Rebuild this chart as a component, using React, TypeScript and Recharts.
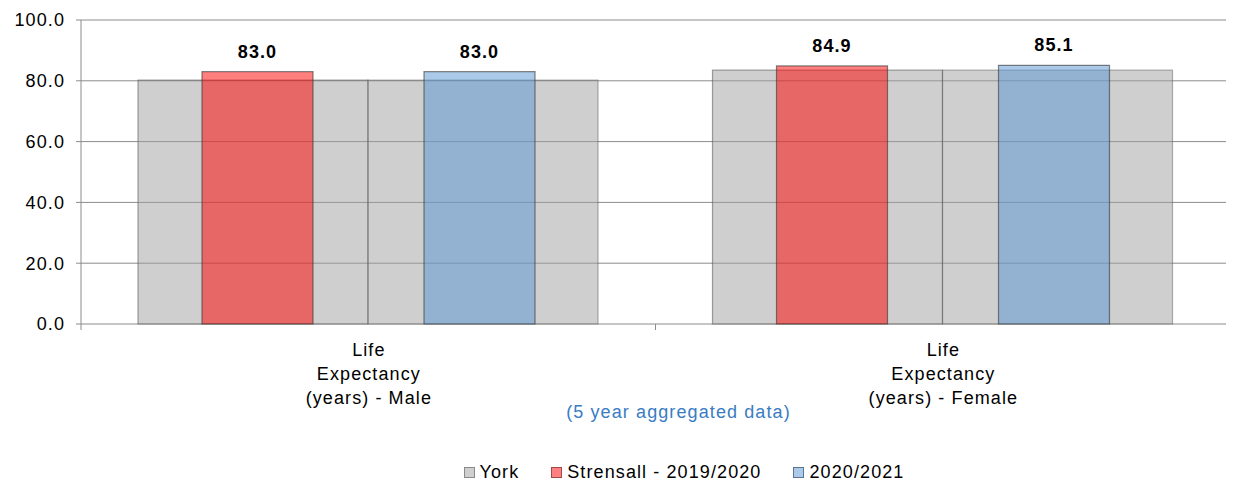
import React from 'react';
import { BarChart, Bar, XAxis, YAxis, CartesianGrid, Legend, LabelList } from 'recharts';

const categories = ['Life\nExpectancy\n(years) - Male', 'Life\nExpectancy\n(years) - Female'];
const yorkPeriod1 = [80.2, 83.5];
const yorkPeriod2 = [80.2, 83.5];
const strensall2019 = [83.0, 84.9];
const strensall2020 = [83.0, 85.1];
const yTicks = [0, 20, 40, 60, 80, 100];
const seriesNames = ['York', 'Strensall - 2019/2020', '2020/2021'];
const axisTitle = '(5 year aggregated data)';

const data = categories.map((c, i) => ({
  category: c,
  slot: i + 0.5,
  yorkA: yorkPeriod1[i],
  yorkB: yorkPeriod2[i],
  s2019: strensall2019[i],
  s2020: strensall2020[i],
}));

const boundaryTicks = [...categories.map((_, i) => i), categories.length];

const swatch: Record<string, { bg: string; border: string }> = {
  yorkA: { bg: '#cfcfcf', border: '#8a8a8a' },
  s2019: { bg: '#ff8080', border: '#a04a4a' },
  s2020: { bg: '#abc9e8', border: '#5f7290' },
};

const FONT_SIZE = 18;

const CategoryTick = (props: any) => {
  const { x, y, payload } = props;
  const lines = String(payload.value).split('\n');
  return (
    <text x={x} y={y} textAnchor="middle" fontSize={FONT_SIZE} fill="#000">
      {lines.map((l, i) => (
        <tspan key={i} x={x + 0.6} dy={i === 0 ? 23 : 24}>
          {l}
        </tspan>
      ))}
    </text>
  );
};

const renderLegend = (props: any) => {
  const items = (props.payload || [])
    .filter((e: any) => e.type !== 'none')
    .slice()
    .sort((a: any, b: any) => seriesNames.indexOf(a.value) - seriesNames.indexOf(b.value));
  return (
    <div
      style={{
        display: 'flex',
        justifyContent: 'center',
        alignItems: 'center',
        height: 20,
        paddingLeft: 126,
        fontSize: FONT_SIZE,
        color: '#000',
      }}
    >
      {items.map((e: any, i: number) => {
        const s = swatch[e.dataKey] || { bg: e.color, border: '#666' };
        return (
          <div key={i} style={{ display: 'flex', alignItems: 'center', marginLeft: i ? 32 : 0 }}>
            <span
              style={{
                display: 'inline-block',
                width: 9,
                height: 9,
                background: s.bg,
                border: `1px solid ${s.border}`,
                marginRight: 5,
              }}
            />
            <span>{e.value}</span>
          </div>
        );
      })}
    </div>
  );
};

export default function App() {
  return (
    <div
      style={{
        width: 1226,
        height: 478,
        fontFamily: "'Liberation Sans', Arial, sans-serif",
        letterSpacing: '1.1px',
      }}
    >
      <BarChart
        width={1226}
        height={478}
        data={data}
        margin={{ top: 12, right: 3, left: 0, bottom: 41 }}
        barGap={0}
      >
        <CartesianGrid
          xAxisId="a"
          yAxisId="left"
          vertical={false}
          stroke="#8c8c8c"
        />
        <XAxis
          xAxisId={0}
          type="number"
          dataKey="slot"
          domain={[0, categories.length]}
          allowDataOverflow
          ticks={boundaryTicks}
          interval={0}
          height={1}
          axisLine={false}
          tickLine={{ stroke: '#8c8c8c' }}
          tickSize={6}
          tickFormatter={() => ''}
        />
        <XAxis
          xAxisId="a"
          dataKey="category"
          height={100}
          axisLine={false}
          tickLine={false}
          tickSize={6}
          tick={<CategoryTick />}
          interval={0}
          label={{
            value: axisTitle,
            position: 'insideBottom',
            offset: 7,
            dx: 23,
            fill: '#3a7cc2',
            fontSize: FONT_SIZE,
          }}
        />
        <XAxis xAxisId="b" dataKey="category" hide />
        <YAxis
          yAxisId="left"
          width={73}
          domain={[0, 100]}
          ticks={yTicks}
          tickFormatter={(v: number) => v.toFixed(1)}
          axisLine={{ stroke: '#8c8c8c' }}
          tickLine={{ stroke: '#8c8c8c' }}
          tickSize={5}
          tickMargin={11}
          tick={{ fontSize: FONT_SIZE, fill: '#000' }}
          interval={0}
        />
        <YAxis
          yAxisId="right"
          orientation="right"
          width={1}
          domain={[0, 100]}
          tick={false}
          tickLine={false}
          axisLine={{ stroke: '#bdbdbd' }}
        />
        <Legend
          content={renderLegend}
          verticalAlign="bottom"
          wrapperStyle={{ left: 0, width: 1226, bottom: 4 }}
        />
        <Bar
          xAxisId="a"
          yAxisId="left"
          dataKey="yorkA"
          name={seriesNames[0]}
          barSize={230}
          fill="#9f9f9f"
          fillOpacity={0.5}
          stroke="#555"
          strokeOpacity={0.55}
          strokeWidth={1.2}
          isAnimationActive={false}
        />
        <Bar
          xAxisId="a"
          yAxisId="left"
          dataKey="yorkB"
          name={seriesNames[0]}
          legendType="none"
          barSize={230}
          fill="#9f9f9f"
          fillOpacity={0.5}
          stroke="#555"
          strokeOpacity={0.45}
          strokeWidth={1.2}
          isAnimationActive={false}
        />
        <Bar
          xAxisId="b"
          yAxisId="left"
          dataKey="s2019"
          name={seriesNames[1]}
          barSize={111}
          fill="#ff0000"
          fillOpacity={0.5}
          stroke="#333"
          strokeOpacity={0.6}
          strokeWidth={1.2}
          isAnimationActive={false}
        >
          <LabelList
            dataKey="s2019"
            position="top"
            offset={14}
            formatter={(v: any) => Number(v).toFixed(1)}
            style={{ fontSize: FONT_SIZE, fontWeight: 'bold', fill: '#000' }}
          />
        </Bar>
        <Bar
          xAxisId="b"
          yAxisId="left"
          dataKey="spacer"
          legendType="none"
          barSize={111}
          fill="none"
          isAnimationActive={false}
        />
        <Bar
          xAxisId="b"
          yAxisId="left"
          dataKey="s2020"
          name={seriesNames[2]}
          barSize={111}
          fill="#5794d1"
          fillOpacity={0.5}
          stroke="#333"
          strokeOpacity={0.6}
          strokeWidth={1.2}
          isAnimationActive={false}
        >
          <LabelList
            dataKey="s2020"
            position="top"
            offset={14}
            formatter={(v: any) => Number(v).toFixed(1)}
            style={{ fontSize: FONT_SIZE, fontWeight: 'bold', fill: '#000' }}
          />
        </Bar>
      </BarChart>
    </div>
  );
}
